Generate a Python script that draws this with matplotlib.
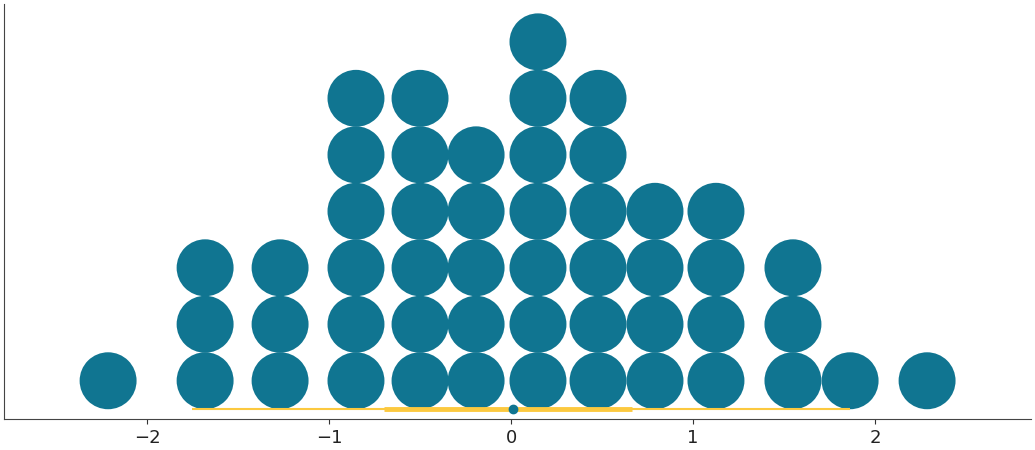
import numpy as np
import matplotlib.pyplot as plt

# dot columns: x position and number of stacked dots
col_x = [-2.214, -1.681, -1.269, -0.852, -0.500, -0.192, 0.148, 0.478, 0.791, 1.126, 1.549, 1.863, 2.286]
col_n = [1, 3, 3, 6, 6, 5, 7, 6, 4, 4, 3, 1, 1]

# interval summary
hdi_outer = [-1.753, 1.863]
hdi_inner = [-0.698, 0.665]
point_est = 0.011

dot_color = '#107591'
line_color = '#FCC93F'

xs = []
ys = []
for x, n in zip(col_x, col_n):
    for k in range(n):
        xs.append(x)
        ys.append(k + 0.5)

fig = plt.figure(figsize=(10.35, 4.5), dpi=100)
ax = fig.add_axes([4 / 1035, 31 / 450, 1027 / 1035, 415 / 450])

ax.scatter(xs, ys, s=41 ** 2, color=dot_color, edgecolors='none', zorder=2)

ax.plot(hdi_outer, [0, 0], color=line_color, lw=1.5, solid_capstyle='butt', zorder=3)
ax.plot(hdi_inner, [0, 0], color=line_color, lw=3.5, solid_capstyle='butt', zorder=3)
ax.plot([point_est], [0], 'o', color=dot_color, ms=6, zorder=4)

ax.set_xlim(-2.786, 2.857)
ax.set_ylim(-0.177, 7.17)
ax.set_yticks([])
ax.set_xticks([-2, -1, 0, 1, 2])
ax.tick_params(axis='x', labelsize=13, colors='#333333', labelcolor='#222222')
for s in ['top', 'right']:
    ax.spines[s].set_visible(False)
for s in ['left', 'bottom']:
    ax.spines[s].set_color('#444444')

plt.savefig('out.png', dpi=100)
